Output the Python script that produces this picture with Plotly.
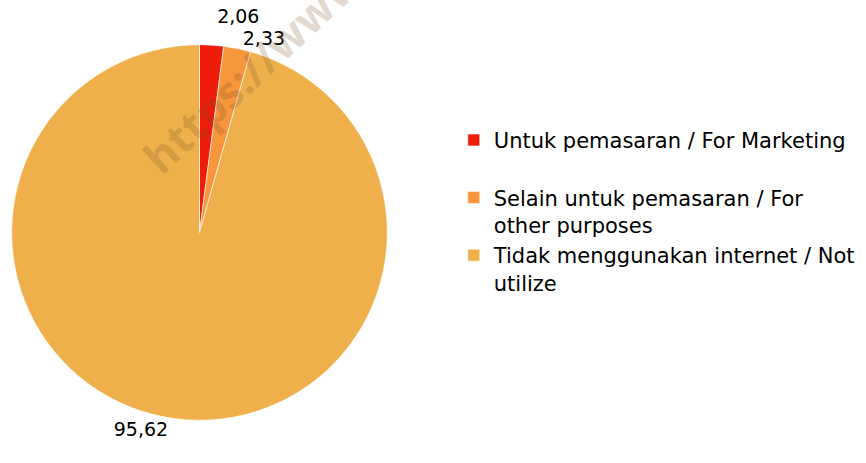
import plotly.graph_objects as go

labels = ['Untuk pemasaran / For Marketing<br> ',
          'Selain untuk pemasaran / For<br>other purposes',
          'Tidak menggunakan internet / Not<br>utilize']
values = [2.06, 2.33, 95.62]
colors = ['#EE1C0A', '#F7963A', '#EFB04B']

FONT = 'DejaVu Sans'
W, H = 866, 463

fig = go.Figure()
fig.add_trace(go.Pie(
    labels=labels, values=values, sort=False, direction='clockwise', rotation=0,
    marker=dict(colors=colors, line=dict(color='white', width=0.6)),
    texttemplate='%{value:.2f}', textposition='outside',
    textfont=dict(size=19, color='black', family=FONT),
    domain=dict(x=[10.5/W, 388.5/W], y=[1-420/H, 1-42/H]),
    hoverinfo='skip',
))

# watermark
fig.add_annotation(text='<b>https://www.bps.go.id</b>', xref='paper', yref='paper',
                   x=328/W, y=1+5/H, xanchor='center', yanchor='middle',
                   showarrow=False, textangle=-43,
                   font=dict(size=44, color='rgba(120,80,40,0.22)', family='Open Sans'))

fig.update_layout(
    width=W, height=H, margin=dict(l=0, r=0, t=0, b=0),
    paper_bgcolor='white', plot_bgcolor='white',
    separators=', ',
    font=dict(family=FONT, size=21, color='black'),
    legend=dict(x=0.524, y=0.746, xanchor='left', yanchor='top', valign='top',
                font=dict(size=21), itemclick=False, bgcolor='rgba(0,0,0,0)'),
)

css = ("var s=document.createElement('style');"
       "s.innerHTML='body{margin:0} path.textline{display:none}';"
       "document.head.appendChild(s);")
fig.write_html('out.html', post_script=css, config={'displayModeBar': False})
